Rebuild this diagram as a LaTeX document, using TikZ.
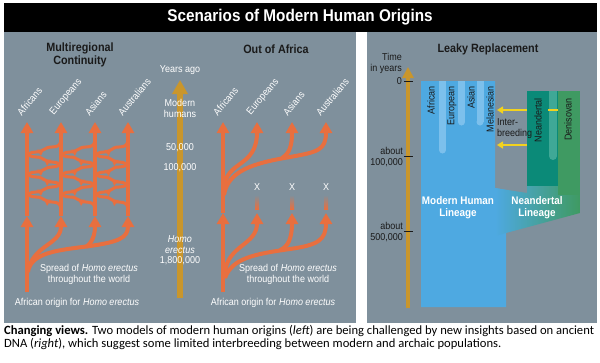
\documentclass[tikz,border=0pt]{standalone}
\usepackage{fontspec}
\setmainfont{Liberation Sans}[FakeStretch=0.9]
\newfontfamily\capfont{Carlito}
\usetikzlibrary{arrows.meta,decorations.markings}
\definecolor{panel}{HTML}{7F909C}
\definecolor{orng}{HTML}{E86F3F}
\definecolor{goldc}{HTML}{C9962C}
\definecolor{hblue}{HTML}{4EA9E1}
\definecolor{lblue}{HTML}{7CC0EC}
\definecolor{neand}{HTML}{0B8A78}
\definecolor{neandl}{HTML}{3FA896}
\definecolor{deni}{HTML}{3F9A62}
\definecolor{yel}{HTML}{F2D21E}
\definecolor{darktxt}{HTML}{1A1A1A}
\begin{document}
\begin{tikzpicture}[x=1pt,y=-1pt,
  orline/.style={draw=orng,line width=4pt},
  tipup/.style={-{Triangle[width=12pt,length=11pt]}},
  conn/.style={draw=orng,line width=3pt,postaction={decorate},
     decoration={markings,mark=at position 0.5 with {\arrow{Triangle[width=7pt,length=6pt,color=orng]}}}},
  wlbl/.style={text=white,font=\fontsize{10}{11}\selectfont,align=center,inner sep=0pt},
  dlbl/.style={text=darktxt,font=\fontsize{10}{11}\selectfont,inner sep=0pt},
  headtxt/.style={text=darktxt,font=\bfseries\fontsize{12}{12.5}\selectfont,align=center,inner sep=0pt},
  poplbl/.style={text=white,font=\fontsize{10}{11}\selectfont,rotate=50,anchor=west,inner sep=0pt},
  collbl/.style={text=darktxt,font=\fontsize{10}{11}\selectfont,rotate=90,anchor=east,inner sep=0pt},
  linlbl/.style={text=white,font=\bfseries\fontsize{11}{12}\selectfont,align=center,inner sep=0pt},
  tick/.style={draw=darktxt,line width=0.8pt},
  yarrow/.style={draw=yel,line width=2pt,-{Triangle[width=7pt,length=6pt]}},
]
\useasboundingbox (0,0) rectangle (600,362);
\fill[white] (0,0) rectangle (600,362);
% title bar and panels
\fill[black] (4,3) rectangle (597,32);
\node[text=white,font=\bfseries\fontsize{17}{19}\selectfont,inner sep=0pt] (title) at (300,17.5) {Scenarios of Modern Human Origins};
\fill[panel] (4,32) rectangle (356,323);
\fill[panel] (367,32) rectangle (597,323);

% ---------------- Multiregional Continuity ----------------
\node[headtxt] (mrhead) at (80,55) {Multiregional\\Continuity};
\foreach \xa/\xb in {27/61,61/95,95/128}{
  \foreach \yy in {152,172,192}{
    \draw[conn] (\xa,\yy+8) .. controls (\xa,\yy+2) and (\xa+3,\yy) .. (\xa+9,\yy)
      .. controls (\xa+17,\yy) and (\xb-17,\yy-5) .. (\xb-9,\yy-5)
      .. controls (\xb-3,\yy-5) and (\xb,\yy-7) .. (\xb,\yy-13);
  }
  \foreach \yy in {162,182,202}{
    \draw[conn] (\xb,\yy+8) .. controls (\xb,\yy+2) and (\xb-3,\yy) .. (\xb-9,\yy)
      .. controls (\xb-17,\yy) and (\xa+17,\yy-5) .. (\xa+9,\yy-5)
      .. controls (\xa+3,\yy-5) and (\xa,\yy-7) .. (\xa,\yy-13);
  }
}
\foreach \x/\n in {27/a,61/b,95/c,128/d}{
  \coordinate (mr\n) at (\x,216);
  \coordinate (mrtop\n) at (\x,122);
  \draw[orline,tipup] (mr\n) -- (mrtop\n);
}
\coordinate (mrroot) at (27,292);
\draw[orline,tipup] (mrroot) -- (mra);
\draw[orline,tipup] (28,272) .. controls (32,245) and (61,245) .. (mrb);
\draw[orline,tipup] (29,268) .. controls (35,252) and (60,250) .. (90,246) .. controls (118,242) and (128,238) .. (mrd);
\draw[orline,tipup] (86,247) .. controls (92,243) and (95,235) .. (mrc);
\node[poplbl] (mr1) at (19,114) {Africans};
\node[poplbl] (mr2) at (52,114) {Europeans};
\node[poplbl] (mr3) at (87,114) {Asians};
\node[poplbl] (mr4) at (120,114) {Australians};
\node[wlbl] (mrspread) at (89,274) {Spread of \textit{Homo erectus}\\throughout the world};
\node[wlbl] (mrorigin) at (77,303) {African origin for \textit{Homo erectus}};

% ---------------- time axis ----------------
\coordinate (tbot) at (180,298);
\coordinate (ttop) at (180,80);
\draw[goldc,line width=6pt,-{Triangle[width=15pt,length=14pt]}] (tbot) -- (ttop);
\node[wlbl] (yago) at (180,70) {Years ago};
\node[wlbl] (modh) at (180,108) {Modern\\humans};
\node[wlbl] (t50) at (180,148) {50,000};
\node[wlbl] (t100) at (180,168) {100,000};
\node[wlbl] (herect) at (180,245) {\textit{Homo}\\\textit{erectus}};
\node[wlbl] (t18) at (180,261) {1,800,000};

% ---------------- Out of Africa ----------------
\node[headtxt] (oahead) at (276,49) {Out of Africa};
\coordinate (oaroot) at (223,292);
\coordinate (oamid) at (223,213);
\draw[orline,tipup] (oaroot) -- (oamid);
\draw[orline,tipup] (oamid) -- (223,122);
\draw[orline,tipup] (224,188) .. controls (226,160) and (257,168) .. (257,122);
\draw[orline,tipup] (224,195) .. controls (228,170) and (255,163) .. (290,157) .. controls (318,152) and (326,150) .. (326,122);
\draw[orline,tipup] (282,158) .. controls (290,153) and (292,145) .. (292,122);
\foreach \x in {257,292,326}{
  \shade[top color=panel,bottom color=orng] (\x-2,195) rectangle (\x+2,209);
  \node[wlbl] at (\x,187) {X};
}
\draw[orline,tipup] (225,272) .. controls (228,245) and (257,245) .. (257,213);
\draw[orline,tipup] (225,278) .. controls (232,258) and (255,254) .. (290,249) .. controls (318,245) and (326,240) .. (326,213);
\draw[orline,tipup] (280,250) .. controls (288,247) and (292,238) .. (292,213);
\node[poplbl] (oa1) at (215,114) {Africans};
\node[poplbl] (oa2) at (249,114) {Europeans};
\node[poplbl] (oa3) at (285,114) {Asians};
\node[poplbl] (oa4) at (318,114) {Australians};
\node[wlbl] (oaspread) at (288,274) {Spread of \textit{Homo erectus}\\throughout the world};
\node[wlbl] (oaorigin) at (273,303) {African origin for \textit{Homo erectus}};

% ---------------- Leaky Replacement ----------------
\node[headtxt] (lrhead) at (488,49) {Leaky Replacement};
\fill[hblue] (421,81) -- (495,81) -- (495,188) -- (506,190) -- (506,307) -- (421,307) -- cycle;
\shade[left color=hblue,middle color=neand,right color=deni] (495,188) -- (527,193) -- (527,91) -- (580,91) -- (580,213) -- (506,233) -- (495,236) -- cycle;
\fill[neand] (527,91) rectangle (558,186);
\fill[deni] (558,91) rectangle (580,195);
\foreach \x/\b in {442.5/150,461.5/122,480/122}{
  \fill[lblue] (\x-3.5,81) rectangle (\x+3.5,\b);
  \fill[lblue] (\x,\b) circle (3.5);
}
\fill[neandl] (549,91) rectangle (557,156);
\fill[neandl] (553,156) circle (4);
\node[collbl] (cafr) at (431,86) {African};
\node[collbl] (ceur) at (452,86) {European};
\node[collbl] (casi) at (471,86) {Asian};
\node[collbl] (cmel) at (490,86) {Melanesian};
\node[collbl] (cnea) at (538,98) {Neandertal};
\node[collbl] (cden) at (568,98) {Denisovan};
\coordinate (ib1) at (497,110);
\coordinate (ib2) at (497,145);
\draw[yarrow] (527,110) -- (ib1);
\draw[draw=yel,line width=2pt] (548,110) -- (558,110);
\draw[yarrow] (527,145) -- (ib2);
\node[dlbl,anchor=west,align=left] (inter) at (497,129) {Inter-\\breeding};
\node[linlbl] (mhl) at (458,208) {Modern Human\\Lineage};
\node[linlbl] (nl) at (537,208) {Neandertal\\Lineage};
% time axis right
\coordinate (rbot) at (408,308);
\coordinate (rtop) at (408,67);
\draw[goldc,line width=4pt,-{Triangle[width=11pt,length=11pt]}] (rbot) -- (rtop);
\draw[tick] (404,81) -- (413,81);
\draw[tick] (404,156) -- (413,156);
\draw[tick] (404,231) -- (413,231);
\node[dlbl,anchor=east,align=right] (tiy) at (402,63) {Time\\in years};
\node[dlbl,anchor=east] (t0) at (402,81) {0};
\node[dlbl,anchor=east,align=right] (ta1) at (403,157) {about\\100,000};
\node[dlbl,anchor=east,align=right] (ta5) at (403,232) {about\\500,000};

% ---------------- caption ----------------
\node[anchor=base west,inner sep=0pt,font=\capfont\fontsize{12.6}{14}\selectfont] (cap1) at (4,334)
  {\textbf{Changing views.} Two models of modern human origins (\textit{left}) are being challenged by new insights based on ancient};
\node[anchor=base west,inner sep=0pt,font=\capfont\fontsize{12.6}{14}\selectfont] (cap2) at (4,347.5)
  {DNA (\textit{right}), which suggest some limited interbreeding between modern and archaic populations.};
\end{tikzpicture}
\end{document}
